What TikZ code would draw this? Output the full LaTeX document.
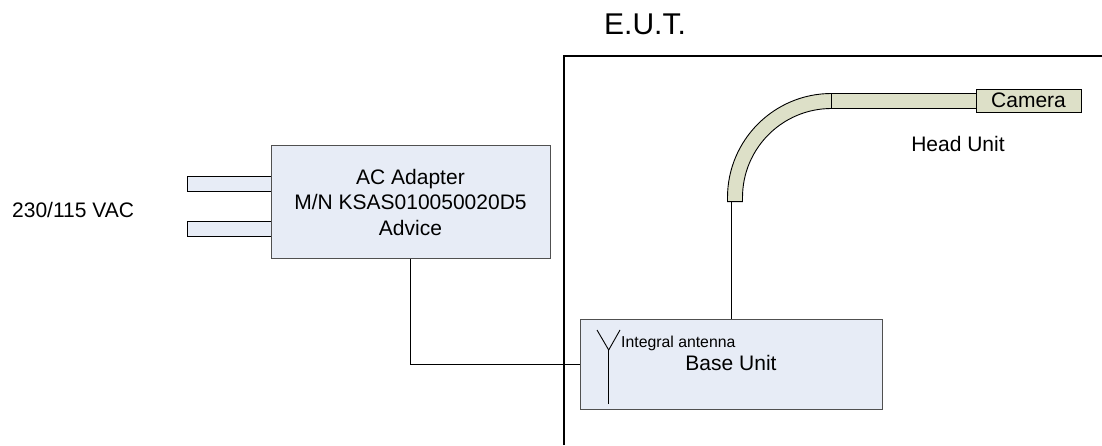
\documentclass[tikz,border=0pt]{standalone}
\usepackage{fontspec}
\setmainfont{Liberation Sans}
\definecolor{boxfill}{RGB}{231,236,246}
\definecolor{boxedge}{RGB}{80,80,80}
\definecolor{tubefill}{RGB}{221,224,200}
\tikzset{
  unitbox/.style={draw=boxedge, line width=1pt, fill=boxfill, inner sep=0pt},
  prong/.style={draw=black, line width=0.9pt, fill=boxfill},
  tube/.style={draw=black, line width=0.9pt, fill=tubefill},
  wire/.style={draw=black, line width=0.9pt},
  bigtext/.style={inner sep=0pt, font=\fontsize{21}{25.5}\selectfont},
  smalltext/.style={inner sep=0pt, font=\fontsize{15.8}{19}\selectfont},
}
\begin{document}
\begin{tikzpicture}[x=1pt,y=1pt]
\useasboundingbox (0,0) rectangle (1102,445);

% equipment-under-test enclosure (open to the right and bottom)
\coordinate (eutBL) at (564.3,0);
\coordinate (eutTL) at (564.3,388.7);
\coordinate (eutTR) at (1102,388.7);
\draw[line width=1.7pt] (eutBL) -- (eutTL) -- (eutTR);
\node[inner sep=0pt, anchor=base, font=\fontsize{30}{36}\selectfont] (eutlabel) at (645,410) {E.U.T.};

% mains input
\node[bigtext, anchor=base west] (mains) at (12,228) {230/115 VAC};

% AC adapter with its plug prongs
\draw[prong] (187,254) rectangle (271,269);
\draw[prong] (187,209) rectangle (271,224);
\node[unitbox, minimum width=279pt, minimum height=112pt, align=center,
      font=\fontsize{21}{25.5}\selectfont] (adapter) at (410.5,243)
      {AC Adapter\\M/N KSAS010050020D5\\Advice};

% base unit with integral antenna
\node[unitbox, minimum width=301.3pt, minimum height=90pt] (base) at (731.35,81) {};
\node[bigtext, anchor=base] (baselabel) at (731,75) {Base Unit};
\coordinate (antfoot) at (608.7,41);
\coordinate (antjoin) at (608.7,95);
\coordinate (antL) at (597,115);
\coordinate (antR) at (620,115);
\draw[wire] (antfoot) -- (antjoin);
\draw[wire] (antL) -- (antjoin) -- (antR);
\node[smalltext, anchor=base west] (antlabel) at (621,98) {Integral antenna};

% flexible head unit: bent tube, straight tube, camera
\coordinate (tubeend) at (731,243.3);
\draw[tube] (727.5,243.3) -- (727.5,247.5)
  arc[start angle=180, end angle=90, radius=104] -- (831.5,336.5)
  arc[start angle=90, end angle=180, radius=89] -- (742.5,243.3) -- cycle;
\draw[tube] (831.5,336.5) rectangle (976,351.5);
\node[draw=black, line width=0.9pt, fill=tubefill, inner sep=0pt,
      minimum width=105pt, minimum height=23pt,
      font=\fontsize{21}{25}\selectfont] (camera) at (1028.5,344.5) {Camera};
\node[bigtext, anchor=base] (headlabel) at (958,293.3) {Head Unit};

% cabling
\draw[wire] (adapter.south) |- (base.west);
\draw[wire] (base.north) -- (base.north |- tubeend);
\end{tikzpicture}
\end{document}
